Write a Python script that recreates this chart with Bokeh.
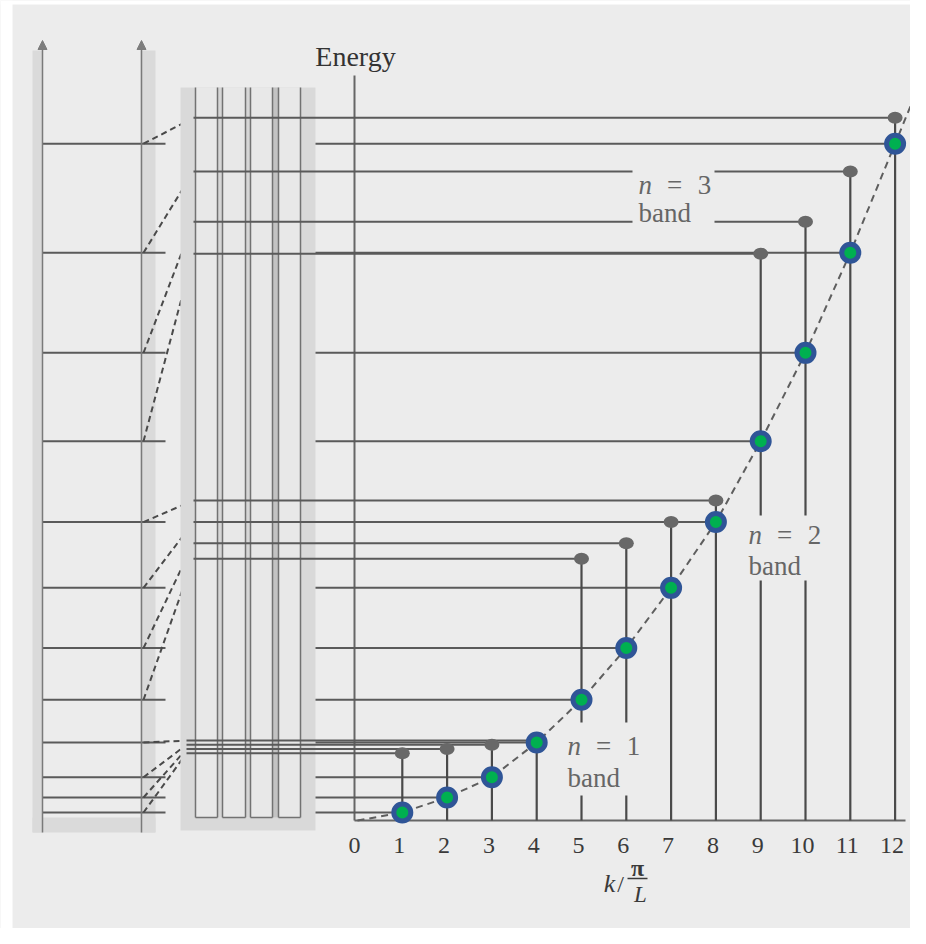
from bokeh.plotting import figure
from bokeh.models import Range1d, Arrow, NormalHead
from bokeh.core.properties import value
from bokeh.embed import file_html
from bokeh.resources import INLINE

# ---------------- data ----------------
k_vals = [1, 2, 3, 4, 5, 6, 7, 8, 9, 10, 11, 12]
# free-electron energies (green dots), arbitrary units ~ (k pi/L)^2
free_E = [1.7, 4.9, 9.2, 16.6, 25.7, 36.7, 49.5, 63.5, 80.7, 99.5, 120.8, 144.0]
# crystal band energies (grey dots on top of the stems)
band_E = [14.3, 15.2, 16.1, 17.0, 55.7, 59.0, 63.5, 68.1, 120.6, 127.4, 138.1, 149.5]
band_n = [1, 1, 1, 1, 2, 2, 2, 2, 3, 3, 3, 3]
tick_k = [0, 1, 2, 3, 4, 5, 6, 7, 8, 9, 10, 11, 12]
tick_labels = ["0", "1", "2", "3", "4", "5", "6", "7", "8", "9", "10", "11", "12"]

# ---------------- layout helpers (pixel -> data) ----------------
X0, SX = 357.0, 44.8
Y0, SY = 820.0, 4.7
TXT = 8  # text baseline correction (px)


def X(px):
    return (px - X0) / SX


def Y(py):
    return (Y0 - py) / SY


def YT(py):
    return Y(py - TXT)


W, H = 910, 928
SERIF = value("Liberation Serif")
LINE = "#5a5a5a"

p = figure(width=W, height=H,
           x_range=Range1d(X(0), X(W)), y_range=Range1d(Y(H), Y(0)),
           output_backend="svg", toolbar_location=None, min_border=0,
           x_axis_location=None, y_axis_location=None,
           background_fill_color="#ececec", border_fill_color="#ececec")
p.grid.visible = False
p.outline_line_color = None

# white scan border on the left and top
p.quad(left=[X(0), X(0)], right=[X(12), X(W)], bottom=[Y(H), Y(4)], top=[Y(0), Y(0)],
       fill_color="white", line_color=None)

# ---------------- left panel (isolated-atom levels) ----------------
p.quad(left=[X(32), X(140), X(32)], right=[X(42), X(155), X(155)],
       bottom=[Y(832), Y(832), Y(832)], top=[Y(50), Y(50), Y(817)],
       fill_color="#dadada", line_color=None)
for ax in (42, 141):
    p.add_layout(Arrow(end=NormalHead(size=9, fill_color="#7d7d7d", line_color="#7d7d7d"),
                       x_start=X(ax), y_start=Y(832), x_end=X(ax), y_end=Y(40),
                       line_color="#7a7a7a", line_width=1.5))
p.segment(x0=[X(42)] * len(free_E), x1=[X(165)] * len(free_E), y0=free_E, y1=free_E,
          line_color=LINE, line_width=2)

band_start = [X(186) if n == 1 else X(193) for n in band_n]
p.segment(x0=[X(143)] * len(free_E), y0=free_E, x1=band_start, y1=band_E,
          line_color="#4a4a4a", line_width=2, line_dash="6 4")

# ---------------- middle comb (periodic wells) ----------------
p.quad(left=[X(180)], right=[X(315)], bottom=[Y(830)], top=[Y(87)], fill_color="#d9d9d9", line_color=None)
p.quad(left=[X(195)], right=[X(300)], bottom=[Y(817)], top=[Y(87)], fill_color="#e8e8e8", line_color=None)
p.quad(left=[X(217), X(245), X(272)], right=[X(222), X(250), X(278)],
       bottom=[Y(817)] * 3, top=[Y(87)] * 3, fill_color=["#d6d6d6", "#d6d6d6", "#c3c3c3"], line_color=None)
walls = [195, 217, 222, 245, 250, 272, 278, 300]
p.segment(x0=[X(w) for w in walls], x1=[X(w) for w in walls], y0=[Y(817)] * len(walls), y1=[Y(87)] * len(walls),
          line_color="#727272", line_width=1.5)
p.segment(x0=[X(195), X(222), X(250), X(278)], x1=[X(217), X(245), X(272), X(300)],
          y0=[Y(817)] * 4, y1=[Y(817)] * 4, line_color="#727272", line_width=1.5)

# ---------------- main E(k) plot ----------------
p.segment(x0=[X(354)], x1=[X(354)], y0=[0], y1=[Y(75)], line_color="#666666", line_width=2)
p.segment(x0=[X(354)], x1=[X(905)], y0=[0], y1=[0], line_color="#666666", line_width=2)

# free-electron horizontal lines
p.segment(x0=[X(315)] * len(free_E), x1=k_vals, y0=free_E, y1=free_E, line_color=LINE, line_width=2)

# band horizontal lines (gap for the "n = 3 band" label)
bx0, bx1, by = [], [], []
for k, e, n, s in zip(k_vals, band_E, band_n, band_start):
    if k in (10, 11):
        bx0 += [s, X(714)]
        bx1 += [X(632), k]
        by += [e, e]
    else:
        bx0.append(s)
        bx1.append(k)
        by.append(e)
p.segment(x0=bx0, x1=bx1, y0=by, y1=by, line_color=LINE, line_width=2)

# stems (gaps for the "n = 1" and "n = 2" labels)
gaps = {5: (Y(795), Y(722)), 6: (Y(795), Y(722)), 9: (Y(580), Y(515)), 10: (Y(580), Y(515))}
sx, sy0, sy1 = [], [], []
for k, e in zip(k_vals, band_E):
    if k in gaps:
        g0, g1 = gaps[k]
        sx += [k, k]
        sy0 += [0, g1]
        sy1 += [g0, e]
    else:
        sx.append(k)
        sy0.append(0)
        sy1.append(e)
p.segment(x0=sx, x1=sx, y0=sy0, y1=sy1, line_color="#4a4a4a", line_width=2.2)

# dashed free-electron parabola through the green points
ext = free_E[-1] + 0.5 * (free_E[-1] - free_E[-2])
p.line(x=[0] + k_vals + [12.5], y=[0] + free_E + [ext], line_color="#5e5e5e", line_width=2, line_dash="7 5")

# band-energy dots
p.ellipse(x=k_vals, y=band_E, width=15, height=12, width_units="screen", height_units="screen",
          fill_color="#686868", line_color=None)
# free-electron dots
p.scatter(x=k_vals, y=free_E, size=17, fill_color="#00b050", line_color="#2f5597", line_width=5)

# ---------------- texts ----------------
p.text(x=tick_k, y=[YT(853)] * len(tick_k), text=tick_labels, x_offset=-3,
       text_font=SERIF, text_font_size="24px", text_align="center", text_baseline="alphabetic",
       text_color="#3a3a3a")
p.text(x=[X(355)], y=[YT(64)], text=["Energy"], text_font=SERIF, text_font_size="28px",
       text_align="center", text_baseline="alphabetic", text_color="#333333")

LAB = "#666666"
# band labels: (left x px, baseline of first row, baseline of second row, index)
for lx, b1, b2, num in [(638, 192, 220, "3"), (748, 542, 573, "2"), (567, 753, 785, "1")]:
    p.text(x=[X(lx)], y=[YT(b1)], text=["n"], text_font=SERIF, text_font_size="27px",
           text_font_style="italic", text_align="left", text_baseline="alphabetic", text_color=LAB)
    p.text(x=[X(lx + 36)], y=[YT(b1)], text=["="], text_font=SERIF, text_font_size="27px",
           text_align="center", text_baseline="alphabetic", text_color=LAB)
    p.text(x=[X(lx + 66)], y=[YT(b1)], text=[num], text_font=SERIF, text_font_size="27px",
           text_align="center", text_baseline="alphabetic", text_color=LAB)
    p.text(x=[X(lx)], y=[YT(b2)], text=["band"], text_font=SERIF, text_font_size="27px",
           text_align="left", text_baseline="alphabetic", text_color=LAB)

# axis label  k / (pi / L)
p.text(x=[X(609)], y=[YT(891)], text=["k"], text_font=SERIF, text_font_size="26px",
       text_font_style="italic", text_align="center", text_baseline="alphabetic", text_color="#3a3a3a")
p.text(x=[X(620)], y=[YT(891)], text=["/"], text_font=SERIF, text_font_size="24px",
       text_align="center", text_baseline="alphabetic", text_color="#3a3a3a")
p.text(x=[X(637)], y=[YT(875)], text=["π"], text_font=SERIF, text_font_size="24px",
       text_font_style="bold", text_align="center", text_baseline="alphabetic", text_color="#3a3a3a")
p.segment(x0=[X(627)], x1=[X(647)], y0=[Y(878)], y1=[Y(878)], line_color="#3a3a3a", line_width=1.5)
p.text(x=[X(640)], y=[YT(902)], text=["L"], text_font=SERIF, text_font_size="23px",
       text_font_style="italic", text_align="center", text_baseline="alphabetic", text_color="#3a3a3a")

open("out.html", "w").write(file_html(p, INLINE))
